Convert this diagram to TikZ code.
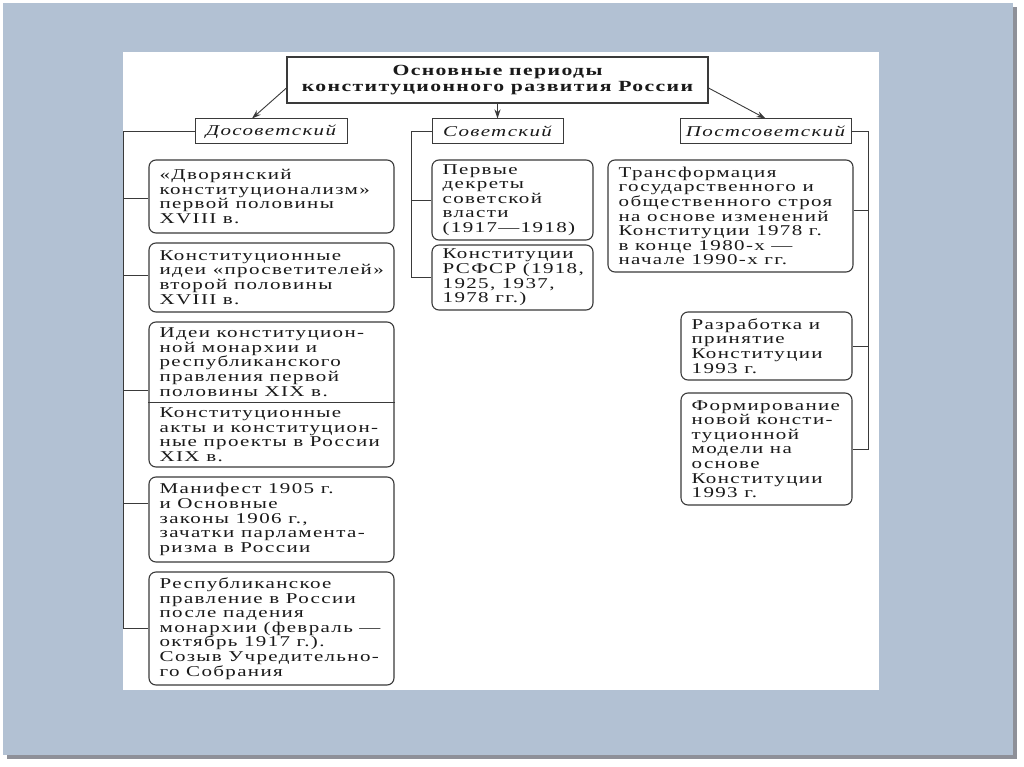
\documentclass[tikz,border=0pt]{standalone}
\usepackage{fontspec}
\setmainfont{Liberation Serif}[FakeStretch=1.4,LetterSpace=9]
\usetikzlibrary{arrows.meta,calc}
\definecolor{panel}{HTML}{B2C1D3}
\definecolor{shadowc}{HTML}{8E9098}
\definecolor{ink}{HTML}{1A1A1A}
\definecolor{linec}{HTML}{3A3A3A}
\newcommand\mkbox[5]{%
  \node[bx, minimum width=#3, minimum height=#4] (#1) at (#2) {};
  \node[txt, anchor=west] (#1t) at ([xshift=11pt]#1.west) {#5};
}
\begin{document}
\begin{tikzpicture}[x=1pt,y=-1pt,
  bx/.style={draw=linec, line width=1.1pt, rounded corners=7pt, fill=white, inner sep=0pt},
  txt/.style={align=left, inner sep=0pt, text=ink, font=\fontsize{15}{14.6}\selectfont},
  cat/.style={draw=linec, line width=1pt, fill=white, inner sep=0pt, minimum height=25, text=ink, font=\itshape\fontsize{15}{15}\selectfont},
  ttl/.style={draw=linec, line width=1.1pt, fill=white, inner sep=0pt, minimum width=421, minimum height=46, align=center, text=ink, font=\bfseries\fontsize{15.5}{16}\selectfont},
  conn/.style={draw=linec, line width=0.9pt},
  arr/.style={conn, -{Stealth[length=9pt,width=6pt]}}]
\useasboundingbox (0,0) rectangle (1024,767);
\fill[white] (0,0) rectangle (1024,767);
\fill[shadowc] (7,7) rectangle (1017,759);
\fill[panel] (3,3) rectangle (1013,755);
\fill[white] (123,52) rectangle (879,690);

% title and categories
\node[ttl] (title) at (497.5,80) {Основные периоды\\конституционного развития России};
\node[cat, minimum width=152] (dosov) at (271,131.5) {Досоветский};
\node[cat, minimum width=131] (sov) at (497.5,131.5) {Советский};
\node[cat, minimum width=171] (post) at (765.5,131.5) {Постсоветский};

\draw[arr] ([yshift=-8pt]title.west) -- ([xshift=-19pt]dosov.north);
\draw[arr] (title.south) -- (sov.north);
\draw[arr] ([yshift=-8pt]title.east) -- (post.north);

% left column
\mkbox{b1}{271.5,196.5}{245}{73}{«Дворянский\\конституционализм»\\первой половины\\XVIII в.}
\mkbox{b2}{271.5,277.5}{245}{69}{Конституционные\\идеи «просветителей»\\второй половины\\XVIII в.}
\node[bx, minimum width=245, minimum height=145] (b3) at (271.5,394.5) {};
\node[txt, anchor=west] (b3a) at ([xshift=11pt]b3.west |- 0,362) {Идеи конституцион-\\ной монархии и\\республиканского\\правления первой\\половины XIX в.};
\node[txt, anchor=west] (b3b) at ([xshift=11pt]b3.west |- 0,434.5) {Конституционные\\акты и конституцион-\\ные проекты в России\\XIX в.};
\draw[conn, line width=1pt] (b3.west |- 0,402) -- (b3.east |- 0,402);
\mkbox{b4}{271.5,519.5}{245}{85}{Манифест 1905 г.\\и Основные\\законы 1906 г.,\\зачатки парламента-\\ризма в России}
\mkbox{b5}{271.5,628.5}{245}{113}{Республиканское\\правление в России\\после падения\\монархии (февраль —\\октябрь 1917 г.).\\Созыв Учредительно-\\го Собрания}

\draw[conn] (dosov.west) -- ++(-71,0) coordinate (lx) -- (lx |- b5.west);
\draw[conn] ([yshift=-1.5pt]b1.west) -- ([yshift=-1.5pt]b1.west -| lx);
\draw[conn] ([yshift=2.5pt]b2.west) -- ([yshift=2.5pt]b2.west -| lx);
\draw[conn] ([yshift=4.5pt]b3.west) -- ([yshift=4.5pt]b3.west -| lx);
\draw[conn] ([yshift=16pt]b4.west) -- ([yshift=16pt]b4.west -| lx);
\draw[conn] (b5.west) -- (b5.west -| lx);

% middle column
\mkbox{m1}{512.5,200}{161}{80}{Первые\\декреты\\советской\\власти\\(1917—1918)}
\mkbox{m2}{512.5,277.5}{161}{65}{Конституции\\РСФСР (1918,\\1925, 1937,\\1978 гг.)}
\draw[conn] (sov.west) -- ++(-20,0) coordinate (mx) -- (mx |- m2.west);
\draw[conn] (m1.west) -- (m1.west -| mx);
\draw[conn] (m2.west) -- (m2.west -| mx);

% right column
\mkbox{r1}{730.5,216}{245}{112}{Трансформация\\государственного и\\общественного строя\\на основе изменений\\Конституции 1978 г.\\в конце 1980-х —\\начале 1990-х гг.}
\mkbox{r2}{766.5,346}{171}{68}{Разработка и\\принятие\\Конституции\\1993 г.}
\mkbox{r3}{766.5,449}{171}{112}{Формирование\\новой консти-\\туционной\\модели на\\основе\\Конституции\\1993 г.}
\draw[conn] (post.east) -- ++(17,0) coordinate (rx) -- (rx |- r3.east);
\draw[conn] ([yshift=6pt]r1.east) -- ([yshift=6pt]r1.east -| rx);
\draw[conn] (r2.east) -- (r2.east -| rx);
\draw[conn] (r3.east) -- (r3.east -| rx);
\end{tikzpicture}
\end{document}
